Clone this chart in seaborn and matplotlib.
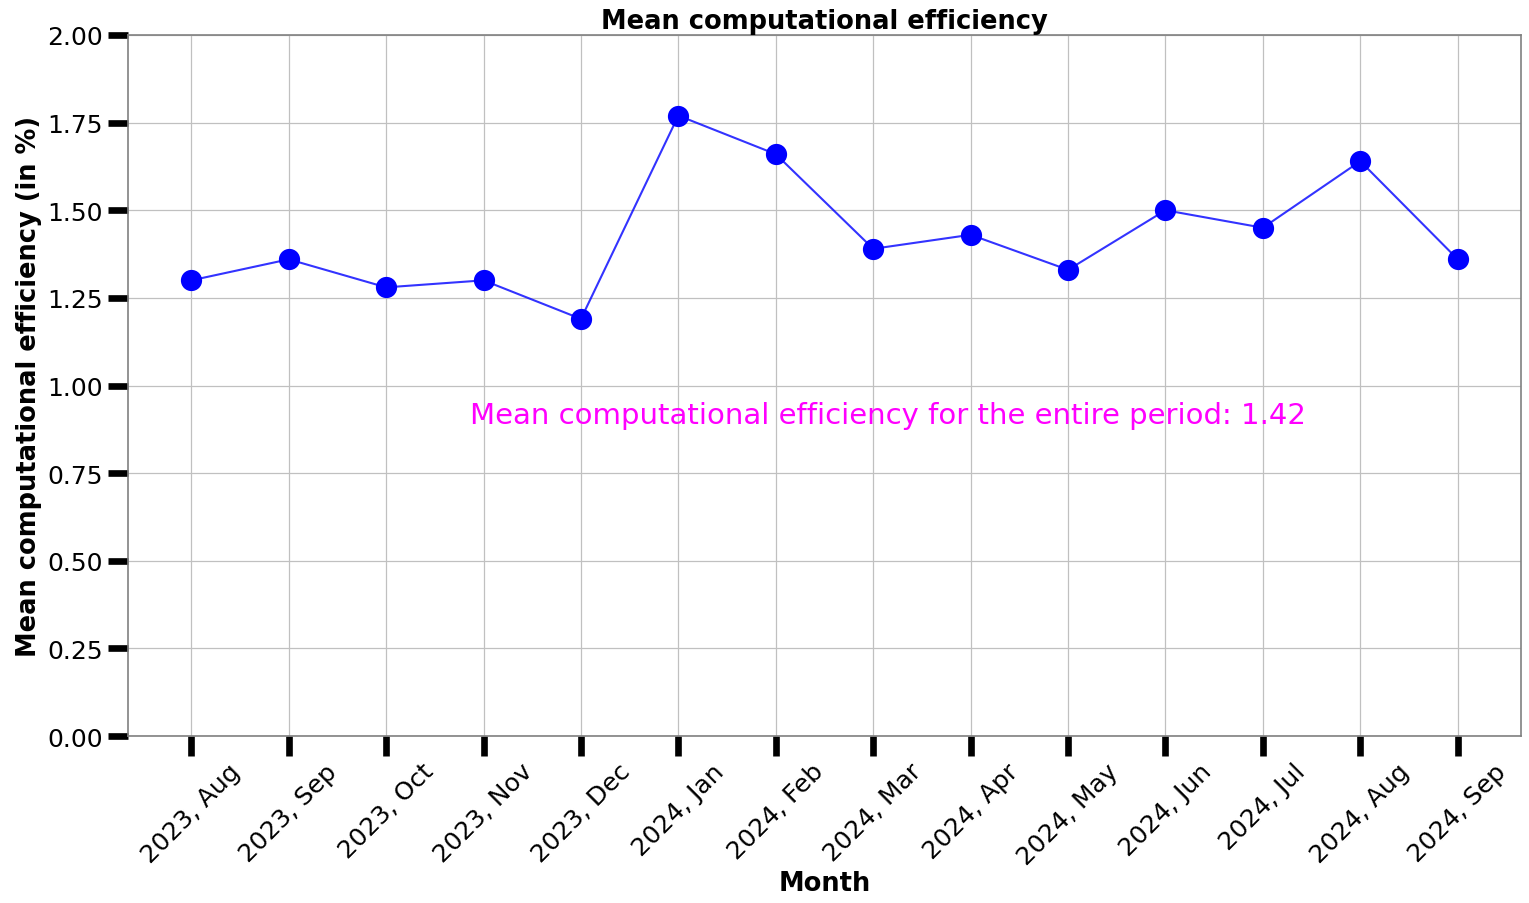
import matplotlib
matplotlib.use("Agg")
import matplotlib.pyplot as plt
import seaborn as sns
import pandas as pd

months = ["2023, Aug", "2023, Sep", "2023, Oct", "2023, Nov", "2023, Dec",
          "2024, Jan", "2024, Feb", "2024, Mar", "2024, Apr", "2024, May",
          "2024, Jun", "2024, Jul", "2024, Aug", "2024, Sep"]
efficiency = [1.30, 1.36, 1.28, 1.30, 1.19, 1.77, 1.66, 1.39, 1.43, 1.33,
              1.50, 1.45, 1.64, 1.36]
mean_label = "Mean computational efficiency for the entire period: 1.42"

df = pd.DataFrame({"Month": months, "Efficiency": efficiency})

sns.set_style("whitegrid")
plt.rcParams['font.family'] = ['DejaVu Sans']
plt.rcParams['text.color'] = 'black'
plt.rcParams['axes.labelcolor'] = 'black'
plt.rcParams['xtick.color'] = 'black'
plt.rcParams['ytick.color'] = 'black'

fig, ax = plt.subplots(figsize=(15.29, 9.04), dpi=100)
fig.subplots_adjust(left=0.0837, right=0.9948, top=0.9602, bottom=0.1847)

sns.lineplot(data=df, x="Month", y="Efficiency", ax=ax, color="blue",
             linewidth=1.5, alpha=0.8, sort=False)
sns.scatterplot(data=df, x="Month", y="Efficiency", ax=ax, color="blue",
                s=200, edgecolor="blue", zorder=3)

ax.set_ylim(0, 2.0)
ax.set_yticks([0, 0.25, 0.5, 0.75, 1.0, 1.25, 1.5, 1.75, 2.0])
ax.set_yticklabels([f"{v:.2f}" for v in ax.get_yticks()])
ax.margins(x=0.05)

ax.tick_params(axis="both", which="major", direction="out", length=14.5,
               width=4.8, color="black", labelcolor="black", labelsize=18,
               left=True, bottom=True)
ax.tick_params(axis="x", pad=2)
plt.setp(ax.get_xticklabels(), rotation=45, ha="center")

ax.grid(True, color="#c0c0c0", linewidth=0.9)
for sp in ax.spines.values():
    sp.set_color("#808080")
    sp.set_linewidth(1.2)

ax.set_title("Mean computational efficiency", fontsize=18.5, fontweight="bold",
             color="black", pad=5)
ax.set_xlabel("Month", fontsize=18.5, fontweight="bold", color="black",
              labelpad=1)
ax.set_ylabel("Mean computational efficiency (in %)", fontsize=18.5,
              fontweight="bold", color="black")

ax.text(0.5456, 0.458, mean_label, transform=ax.transAxes, ha="center",
        va="center", color="magenta", fontsize=21)

fig.savefig("out.png", dpi=100)
